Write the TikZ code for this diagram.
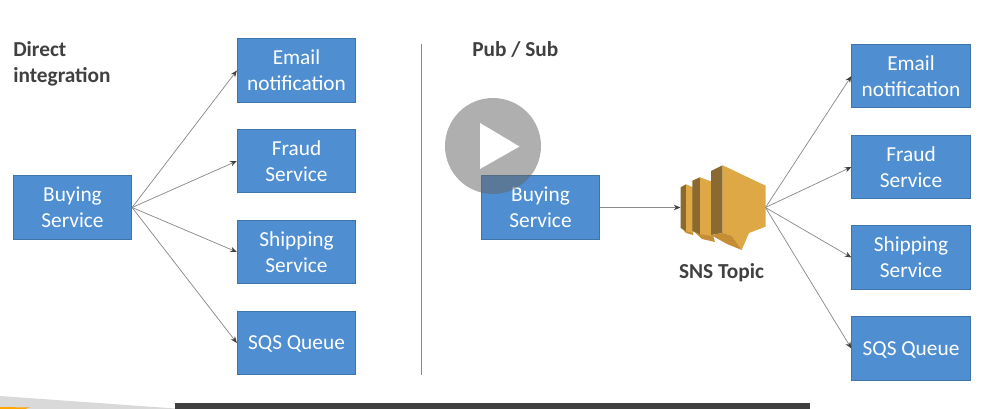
\documentclass[tikz,border=0pt]{standalone}
\usepackage{fontspec}
\setmainfont{Carlito}
\usetikzlibrary{arrows.meta}
\definecolor{boxblue}{HTML}{4F8FD1}
\definecolor{boxedge}{HTML}{3F74A8}
\definecolor{conn}{HTML}{8A8A8A}
\definecolor{ink}{HTML}{404040}
\definecolor{gold}{HTML}{DDA845}
\definecolor{goldmid}{HTML}{C58E35}
\definecolor{golddark}{HTML}{8A6A30}
\tikzset{
  svc/.style={draw=boxedge,line width=0.6pt,fill=boxblue,text=white,minimum width=88.8pt,minimum height=47.6pt,inner sep=0pt,align=center,font=\fontsize{16}{19.3}\selectfont,execute at begin node={\rule{0pt}{12.6pt}}},
  flow/.style={draw=conn,line width=0.55pt,-{Stealth[length=5pt,width=4pt,color=ink]}},
  heading/.style={text=ink,font=\fontsize{16}{19.4}\selectfont\bfseries,align=left,inner sep=0pt}
}
\begin{document}
\begin{tikzpicture}[x=0.75pt,y=-0.75pt]
\useasboundingbox (0,0) rectangle (1004,409);
% bottom strip
\fill[black!15] (0,396) -- (175,408.5) -- (175,409) -- (0,409) -- cycle;
\fill[orange!70!yellow] (0,407) -- (30,407.5) -- (25,409) -- (0,409) -- cycle;
\fill[black!75!white] (175,403) rectangle (810,409);
% left
\node[heading,anchor=north west] (h1) at (13,41) {Direct\\integration};
\node[svc] (b1) at (72.5,207.5) {Buying\\Service};
\node[svc] (e1) at (296.5,70.5) {Email\\notification};
\node[svc] (f1) at (296.5,161) {Fraud\\Service};
\node[svc] (s1) at (296.5,252) {Shipping\\Service};
\node[svc] (q1) at (296.5,343) {SQS Queue};
\coordinate (o1) at (b1.east);
\foreach \t in {e1,f1,s1,q1} \draw[flow] (o1) -- (\t.west);
% divider
\coordinate (d1) at (421,44);
\coordinate (d2) at (421,375);
\draw[conn,line width=0.6pt] (d1) -- (d2);
% right
\node[heading,anchor=north west] (h2) at (472,41) {Pub / Sub};
\node[svc] (b2) at (540.5,207.5) {Buying\\Service};
\node[svc] (e2) at (911,76) {Email\\notification};
\node[svc] (f2) at (911,167) {Fraud\\Service};
\node[svc] (s2) at (911,257.5) {Shipping\\Service};
\node[svc] (q2) at (911,348.5) {SQS Queue};
% SNS icon
\coordinate (snsin) at (680.5,207.5);
\coordinate (snsout) at (765.5,207.5);
% small layer
\fill[goldmid] (680.7,227) -- (686,233) -- (693,235) -- (693,226) -- cycle;
\fill[golddark] (680.7,187.3) -- (686,184.3) -- (686,231) -- (680.7,228) -- cycle;
\fill[gold] (686,184.3) -- (693,187.3) -- (693,233) -- (686,231) -- cycle;
% middle layer
\fill[goldmid] (692.3,230) -- (702,239) -- (715,242) -- (712,232) -- cycle;
\fill[golddark] (692.3,180.7) -- (700,177.3) -- (700,234) -- (692.3,231) -- cycle;
\fill[gold] (700,177.3) -- (712,181.7) -- (712,236) -- (700,234) -- cycle;
% large layer
\fill[golddark] (711,171) -- (722.7,165.3) -- (722.7,233) -- (711,235) -- cycle;
\fill[gold] (722.7,165.3) -- (765.5,185.7) -- (765.5,226.7) -- (749,233) -- (741.7,250) -- (731.7,235.7) -- (722.7,233) -- cycle;
\fill[goldmid] (711,235) -- (722.7,233) -- (731.7,235.7) -- (741.7,250) -- (727,244) -- cycle;
\node[text=ink,font=\fontsize{16}{19}\selectfont\bfseries,inner sep=0pt] (sns) at (721.5,273) {SNS Topic};
\draw[flow] (b2.east) -- (snsin);
\foreach \t in {e2,f2,s2,q2} \draw[flow] (snsout) -- (\t.west);
% play button
\fill[black!60!white,opacity=0.52] (493,146) circle (48);
\fill[white] (480,123) -- (519.5,146.5) -- (480,169) -- cycle;
\end{tikzpicture}
\end{document}
